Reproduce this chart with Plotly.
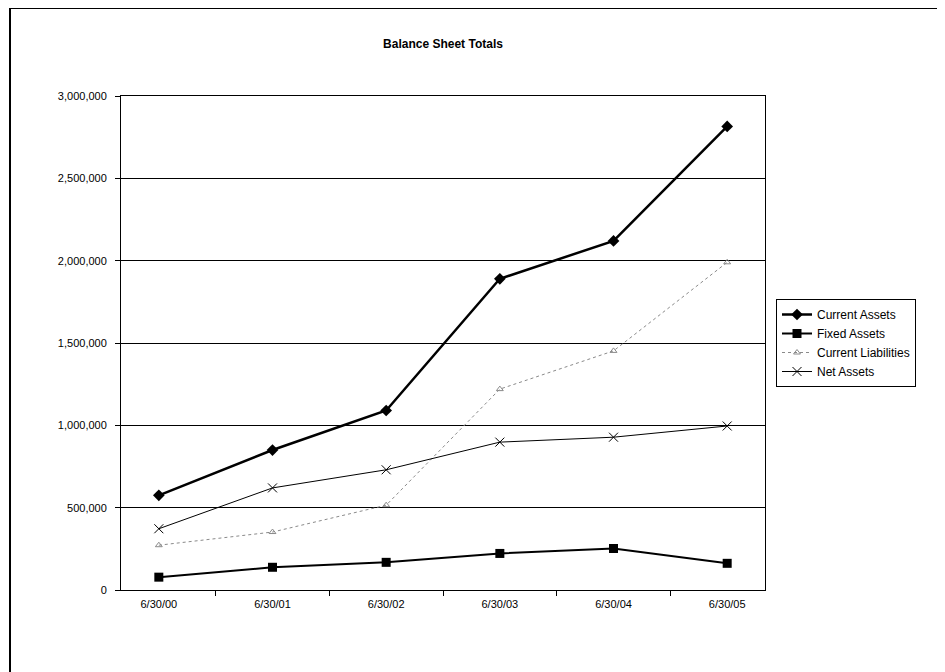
import plotly.graph_objects as go

dates = ["6/30/00", "6/30/01", "6/30/02", "6/30/03", "6/30/04", "6/30/05"]
current_assets = [575000, 850000, 1090000, 1890000, 2120000, 2815000]
fixed_assets = [78000, 138000, 168000, 222000, 252000, 162000]
current_liabilities = [272000, 352000, 515000, 1220000, 1452000, 1990000]
net_assets = [372000, 620000, 730000, 898000, 928000, 996000]

FONT = "Liberation Sans, Arial, sans-serif"

fig = go.Figure()
fig.add_trace(go.Scatter(
    x=dates, y=current_assets, name="Current Assets", mode="lines+markers",
    line=dict(color="black", width=2.5),
    marker=dict(symbol="diamond", size=9, color="black")))
fig.add_trace(go.Scatter(
    x=dates, y=fixed_assets, name="Fixed Assets", mode="lines+markers",
    line=dict(color="black", width=2),
    marker=dict(symbol="square", size=9, color="black")))
fig.add_trace(go.Scatter(
    x=dates, y=current_liabilities, name="Current Liabilities", mode="lines+markers",
    line=dict(color="#8a8a8a", width=1, dash="dot"),
    marker=dict(symbol="triangle-up-open", size=6, color="#8a8a8a", line=dict(width=1))))
fig.add_trace(go.Scatter(
    x=dates, y=net_assets, name="Net Assets", mode="lines+markers",
    line=dict(color="black", width=1),
    marker=dict(symbol="x-thin-open", size=9, color="black", line=dict(width=1, color="black"))))

# page body has an 8px margin; figure is sized so the page matches 945x672
W, H = 937, 664
fig.update_layout(
    width=W, height=H,
    margin=dict(l=113, r=180, t=88, b=82),
    paper_bgcolor="white", plot_bgcolor="white",
    font=dict(family=FONT, size=11, color="black"),
    title=dict(text="<b>Balance Sheet Totals</b>", x=0.5, xref="paper", xanchor="center",
               y=1 - 36 / H, yanchor="middle", font=dict(size=12, family=FONT, color="black")),
    showlegend=True,
    legend=dict(x=(776 - 121) / 644, xanchor="left", y=0.5, yanchor="middle",
                bordercolor="black", borderwidth=1, bgcolor="white",
                font=dict(size=12, family=FONT), itemwidth=30, tracegroupgap=0),
    xaxis=dict(type="category", showline=True, linecolor="black", linewidth=1, mirror=True,
               ticks="outside", ticklen=5, tickcolor="black", tickson="boundaries",
               showgrid=False, tickfont=dict(size=11), ticklabelstandoff=4),
    yaxis=dict(range=[0, 3000000], dtick=500000, tickformat=",", showline=True,
               linecolor="black", linewidth=1, mirror=True, ticks="outside", ticklen=5,
               tickcolor="black", showgrid=True, gridcolor="black", gridwidth=1,
               zeroline=False, tickfont=dict(size=11), ticklabelstandoff=6),
    shapes=[dict(type="rect", xref="paper", yref="paper",
                 x0=(10 - 121) / 644, x1=(942 - 121) / 644,
                 y0=(590 - 690) / 494, y1=(590 - 8) / 494,
                 line=dict(color="black", width=2), fillcolor="rgba(0,0,0,0)", layer="below")],
)

fig.write_html("out.html")
